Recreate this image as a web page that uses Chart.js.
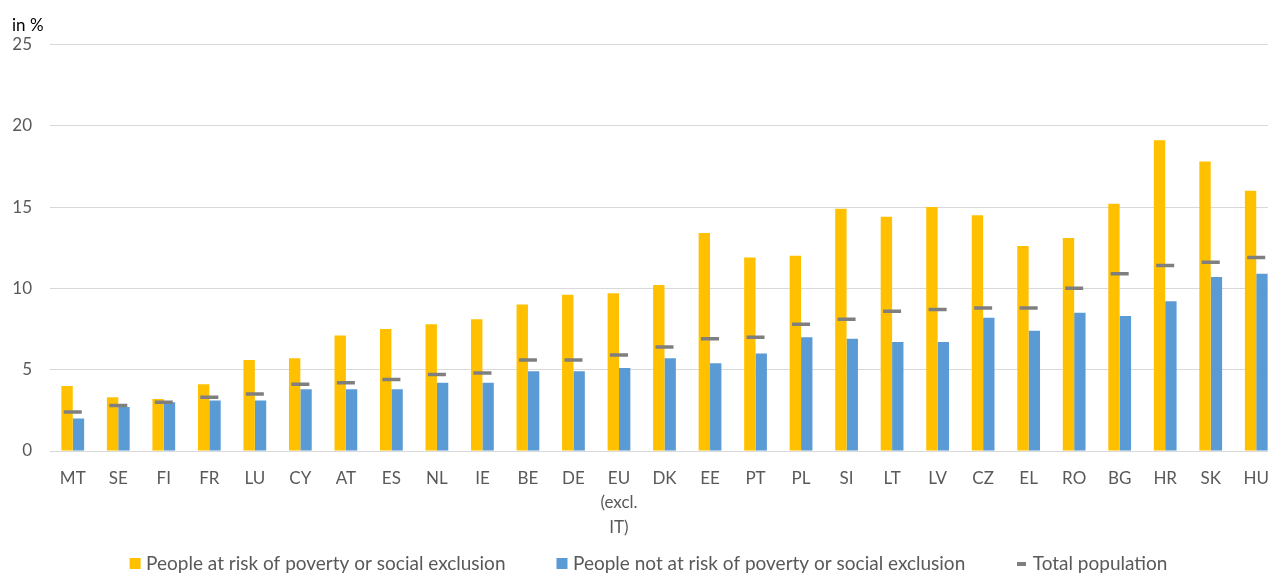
<!DOCTYPE html>
<html>
<head>
<meta charset="utf-8">
<script src="https://cdn.jsdelivr.net/npm/chart.js@4/dist/chart.umd.min.js"></script>
<style>
  html, body { margin: 0; padding: 0; background: #ffffff; overflow: hidden; }
  #wrap { width: 1268px; height: 574px; position: relative; overflow: hidden; }
  #c { display: block; }
</style>
</head>
<body>
<div id="wrap"><canvas id="c" width="1289" height="574"></canvas></div>
<script>
const categories = ['MT','SE','FI','FR','LU','CY','AT','ES','NL','IE','BE','DE',['EU','(excl.','IT)'],'DK','EE','PT','PL','SI','LT','LV','CZ','EL','RO','BG','HR','SK','HU'];
const atRisk    = [4.0, 3.3, 3.2, 4.1, 5.6, 5.7, 7.1, 7.5, 7.8, 8.1, 9.0, 9.6, 9.7, 10.2, 13.4, 11.9, 12.0, 14.9, 14.4, 15.0, 14.5, 12.6, 13.1, 15.2, 19.1, 17.8, 16.0];
const notAtRisk = [2.0, 2.7, 3.0, 3.1, 3.1, 3.8, 3.8, 3.8, 4.2, 4.2, 4.9, 4.9, 5.1, 5.7, 5.4, 6.0, 7.0, 6.9, 6.7, 6.7, 8.2, 7.4, 8.5, 8.3, 9.2, 10.7, 10.9];
const totalPop  = [2.4, 2.8, 3.0, 3.3, 3.5, 4.1, 4.2, 4.4, 4.7, 4.8, 5.6, 5.6, 5.9, 6.4, 6.9, 7.0, 7.8, 8.1, 8.6, 8.7, 8.8, 8.8, 10.0, 10.9, 11.4, 11.6, 11.9];
const yTicks = [0, 5, 10, 15, 20, 25];

const FONT = 'Lato, "Open Sans", sans-serif';

// small dash used as the legend symbol of the "Total population" series
const dash = document.createElement('canvas');
dash.width = 9; dash.height = 4;
(function () { const g = dash.getContext('2d'); g.fillStyle = '#7F7F7F'; g.fillRect(0, 0, 9, 4); })();

new Chart(document.getElementById('c'), {
  type: 'bar',
  data: {
    labels: categories,
    datasets: [
      { label: 'People at risk of poverty or social exclusion', data: atRisk, backgroundColor: '#FFC000', borderWidth: 0, order: 1, pointStyle: 'rect' },
      { label: 'People not at risk of poverty or social exclusion', data: notAtRisk, backgroundColor: '#5B9BD5', borderWidth: 0, order: 1, pointStyle: 'rect' },
      { type: 'line', label: 'Total population', data: totalPop, showLine: false, pointStyle: 'line', pointRadius: 9, pointHoverRadius: 9, borderColor: '#7F7F7F', backgroundColor: '#7F7F7F', borderWidth: 3.5, pointBorderWidth: 3.5, order: 0 }
    ]
  },
  options: {
    responsive: false,
    animation: false,
    layout: { autoPadding: false, padding: { left: 12, right: 0, top: 4, bottom: 0 } },
    datasets: { bar: { categoryPercentage: 0.5, barPercentage: 1.0 } },
    plugins: {
      title: { display: true, text: 'in %', align: 'start', color: '#000000', font: { family: FONT, size: 17, weight: 'normal' }, padding: { top: 11, bottom: 9 } },
      legend: {
        position: 'bottom',
        maxHeight: 75,
        labels: {
          usePointStyle: true, boxWidth: 3, boxHeight: 11, padding: 55,
          color: '#595959', font: { family: FONT, size: 19 },
          sort: (a, b) => a.datasetIndex - b.datasetIndex,
          generateLabels: chart => {
            const items = Chart.defaults.plugins.legend.labels.generateLabels(chart);
            items.forEach(it => { if (it.datasetIndex === 2) it.pointStyle = dash; });
            return items;
          }
        }
      },
      tooltip: { enabled: false }
    },
    scales: {
      x: {
        afterFit: s => { s.height = 48; s.paddingLeft = 0; s.paddingRight = 10; s._computeLabelArea = () => undefined; },
        grid: { display: false, drawTicks: false },
        border: { display: true, color: '#D9D9D9', width: 1 },
        ticks: { color: '#595959', font: { family: FONT, size: 17, lineHeight: 1.45 }, padding: 15, maxRotation: 0, autoSkip: false }
      },
      y: {
        min: 0, max: 25,
        afterFit: s => { s.width = 38; },
        afterBuildTicks: s => { s.ticks = yTicks.map(v => ({ value: v })); },
        grid: { color: '#D9D9D9', drawTicks: false },
        border: { display: false },
        ticks: { color: '#595959', font: { family: FONT, size: 17 }, padding: 18 }
      }
    }
  }
});
</script>
</body>
</html>
